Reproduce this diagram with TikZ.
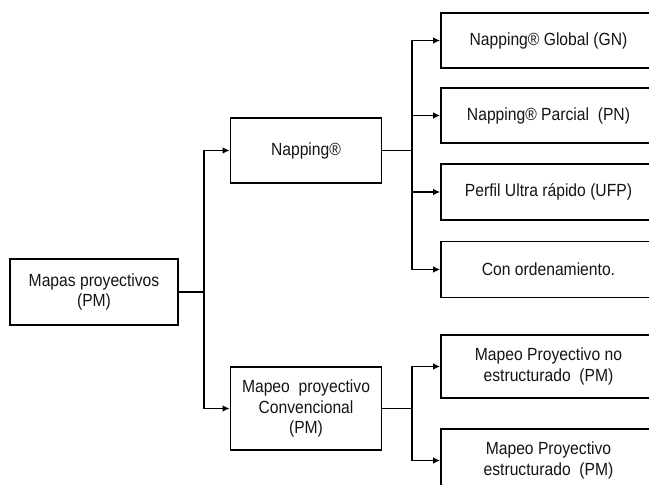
\documentclass[tikz,border=0pt]{standalone}
\usepackage{fontspec}
\setmainfont{Liberation Sans}[FakeStretch=0.89]
\usetikzlibrary{arrows.meta}

\tikzset{caja/.style={draw, line width=1.6pt, align=center, inner sep=0pt, text=black!92, font=\fontsize{17.6}{20.5}\selectfont}}
\tikzset{linea/.style={line width=1.6pt}}
\tikzset{flecha/.style={line width=1.6pt, -{Latex[length=7pt,width=6.5pt]}}}

\begin{document}
\begin{tikzpicture}[x=1pt, y=-1pt]
  \useasboundingbox (0,0) rectangle (649,485);
  \node[caja, minimum width=168pt, minimum height=66pt] (pm) at (94,292) {Mapas proyectivos\\(PM)};
  \node[caja, minimum width=151pt, minimum height=65pt] (nap) at (306,150.5) {Napping®};
  \node[caja, minimum width=151pt, minimum height=83pt] (conv) at (306,408.5) {Mapeo\ \ proyectivo\\Convencional\\(PM)};
  \node[caja, minimum width=215pt, minimum height=55pt] (gn)  at (548.5,40.5)  {Napping® Global (GN)};
  \node[caja, minimum width=215pt, minimum height=55pt] (pn)  at (548.5,115.5) {Napping® Parcial\ \ (PN)};
  \node[caja, minimum width=215pt, minimum height=56pt] (ufp) at (548.5,192)   {Perfil Ultra rápido (UFP)};
  \node[caja, minimum width=215pt, minimum height=56pt] (ord) at (548.5,269.5) {Con ordenamiento.};
  \node[caja, minimum width=215pt, minimum height=63pt] (nest) at (548.5,366.5) {Mapeo Proyectivo no\\estructurado\ \ (PM)};
  \node[caja, minimum width=215pt, minimum height=63pt] (est)  at (548.5,460.5) {Mapeo Proyectivo\\estructurado\ \ (PM)};

  \coordinate (r1) at (204,292);
  \coordinate (r2) at (412,150.5);
  \coordinate (r3) at (412,408.5);

  \draw[linea] (pm) -- (r1);
  \draw[flecha] (r1) |- (nap);
  \draw[flecha] (r1) |- (conv);
  \draw[linea] (nap) -- (r2);
  \foreach \n in {gn,pn,ufp,ord} \draw[flecha] (r2) |- (\n);
  \draw[linea] (conv) -- (r3);
  \foreach \n in {nest,est} \draw[flecha] (r3) |- (\n);
\end{tikzpicture}
\end{document}
